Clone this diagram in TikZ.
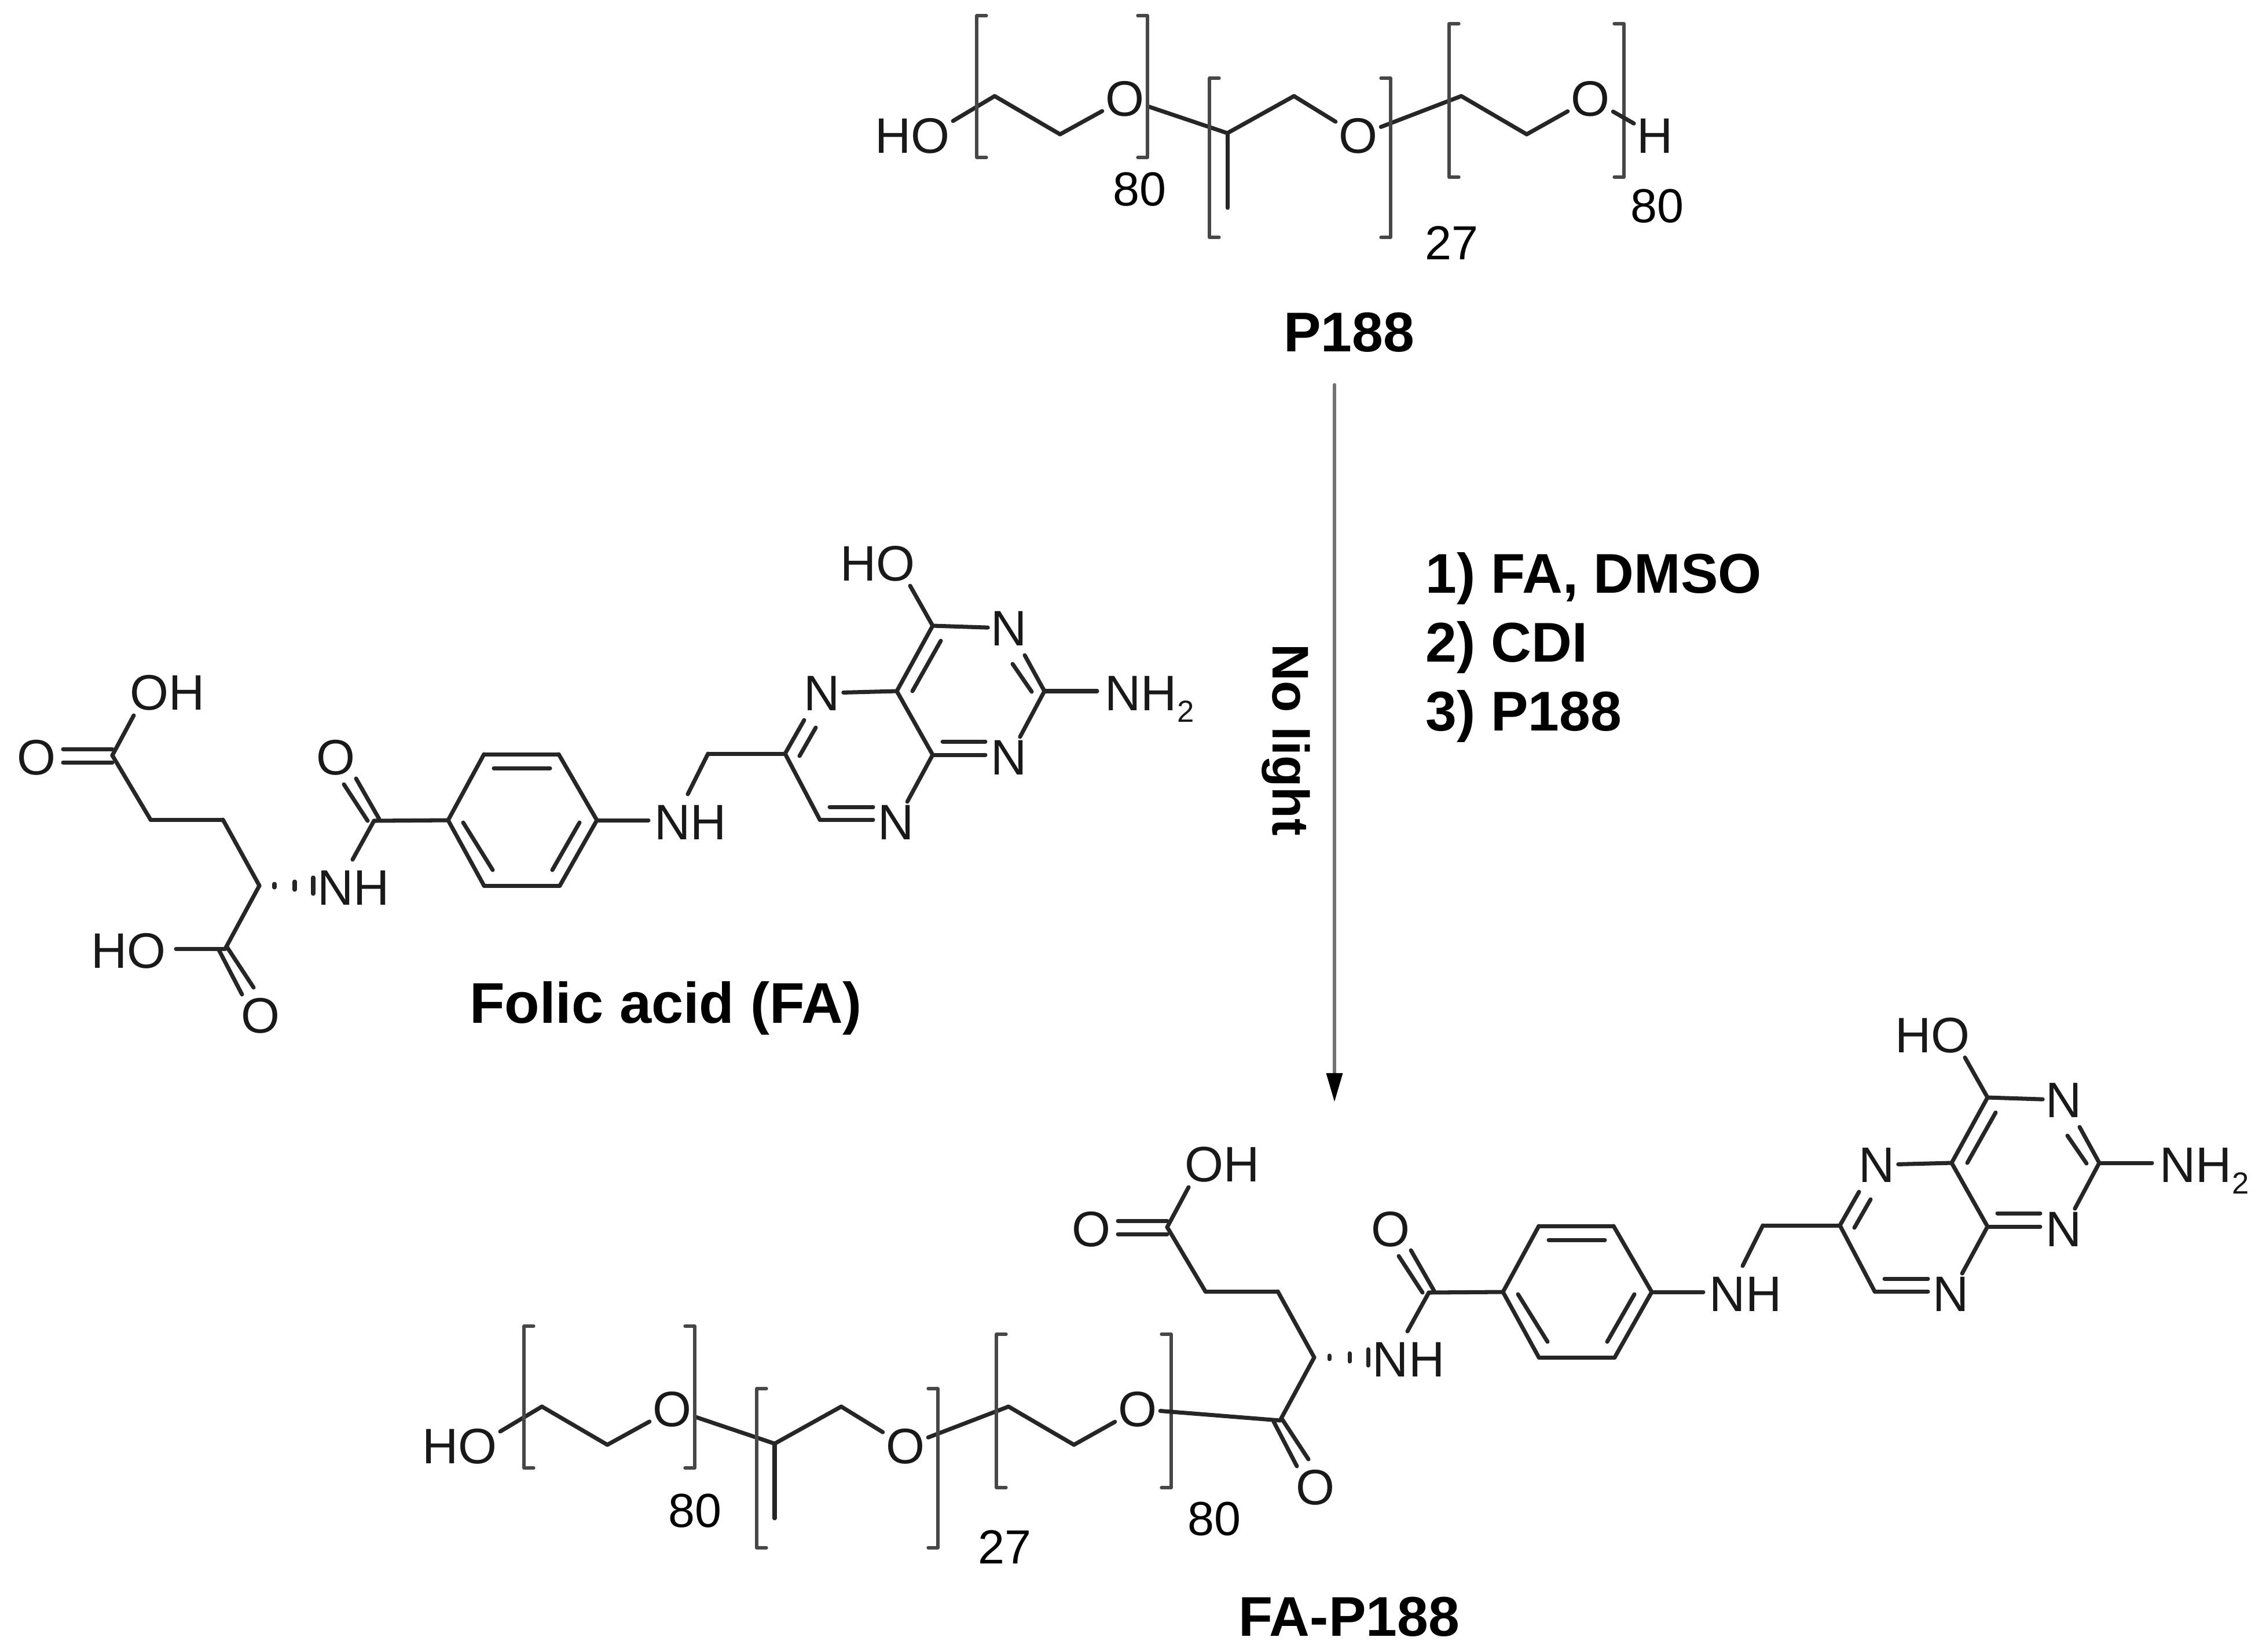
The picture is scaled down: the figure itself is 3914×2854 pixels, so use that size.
\documentclass[tikz,border=0pt]{standalone}
\usepackage{fontspec}
\setmainfont{Liberation Sans}
\usetikzlibrary{arrows.meta}
\tikzset{
	bond/.style={line width=2pt,color=black!85},
	brack/.style={line width=1.5pt,color=black!72},
	atom/.style={anchor=base,inner sep=.05cm,font=\fontsize{24.5}{28}\selectfont,color=black!90},
	numlab/.style={anchor=base,inner sep=0pt,font=\fontsize{23.5}{26}\selectfont},
	titlelab/.style={anchor=base,inner sep=0pt,font=\fontsize{27.5}{30}\selectfont\bfseries},
}
\newcommand{\polybracket}[4]{
	\draw[brack] (#1,#3) ++(17,0) -| (#1,#4) -- ++(17,0);
	\draw[brack] (#2,#3) ++(-17,0) -| (#2,#4) -- ++(-17,0);
}
\newcommand{\blockchain}{
	\node[atom] (ho) at (1576,264) {HO};
	\node[atom] (oa) at (1943,200) {O};
	\node[atom] (ob) at (2346,264) {O};
	\node[atom] (oc) at (2747,200) {O};
	\foreach \pn/\px/\py in {hoend/1646/209,ca/1718/166,cb/1831/232,cc/2120/230,me/2120/359,cd/2235/166,ce/2524/166,cf/2637/232}
		\coordinate (\pn) at (\px,\py);
	\foreach \pa/\pb in {hoend/ca,ca/cb,cb/oa,oa/cc,cc/me,cc/cd,cd/ob,ob/ce,ce/cf,cf/oc}
		\draw[bond] (\pa) -- (\pb);
	\polybracket{1687}{1982}{27}{272}
	\polybracket{2089}{2402}{135}{410}
	\polybracket{2503}{2805}{41}{306}
}
\newcommand{\folatecore}{
	\node[atom] (oh) at (289,1226) {OH};
	\node[atom] (oa) at (63,1338) {O};
	\node[atom] (ob) at (450,1784) {O};
	\node[atom] (oc) at (580,1338) {O};
	\node[atom] (nha) at (611,1563) {NH};
	\node[atom] (nhb) at (1193,1450) {NH};
	\node[atom] (na) at (1420,1227) {N};
	\node[atom] (nb) at (1743,1115) {N};
	\node[atom] (nc) at (1743,1338) {N};
	\node[atom] (nd) at (1548,1450) {N};
	\node[atom] (hot) at (1516,1003) {HO};
	\node[atom,anchor=base west,inner sep=0pt] (nhc) at (1908,1227) {NH\raisebox{-.24em}{\fontsize{15}{16}\selectfont 2}};
	\foreach \pn/\px/\py in {
		cc1/194/1305,oe1/231/1236,m1/260/1416,m2/385/1416,st/448/1530,cc2/389/1639,
		ca/646/1418,ne1/609/1485,r1/774/1417,r2/836/1303,r3/965/1303,r4/1031/1417,r5/967/1530,r6/836/1530,
		ne2/1120/1417,ne3/1188/1372,ch/1223/1302,c6/1356/1302,c4a/1549/1194,c4/1611/1081,oe2/1572/1012,
		c2/1804/1194,ne4/1895/1194,c8a/1611/1304,c7/1416/1416,
		d1a/109/1294,d1b/194/1294,d2a/109/1317,d2b/194/1317,
		d3a/378/1641,d3b/418/1718,d4a/392/1636,d4b/438/1706,
		d5a/594/1355,d5b/635/1418,d6a/615/1345,d6b/655/1415,
		i1a/853/1327,i1b/950/1327,i2a/800/1421,i2b/851/1503,i3a/1001/1421,i3b/954/1503,
		i4a/1389/1244,i5a/1381/1306,i5b/1409/1257,i6a/1576/1194,i6b/1625/1107,
		i7a/1770/1132,i8a/1749/1147,i8b/1782/1195,i9a/1628/1281,i9b/1702/1281,i10/1702/1304,
		i11/1508/1416,i12a/1433/1394,i12b/1508/1394}
		\coordinate (\pn) at (\px,\py);
	\foreach \pa/\pb in {
		cc1/oe1,d1a/d1b,d2a/d2b,cc1/m1,m1/m2,m2/st,st/cc2,d3a/d3b,d4a/d4b,
		ne1/ca,d5a/d5b,d6a/d6b,ca/r1,r1/r2,r2/r3,r3/r4,r4/r5,r5/r6,r6/r1,i1a/i1b,i2a/i2b,i3a/i3b,
		r4/ne2,ne3/ch,ch/c6,c6/i4a,i5a/i5b,na/c4a,c4a/c4,i6a/i6b,c4/oe2,c4/nb,i7a/c2,i8a/i8b,c2/ne4,c2/nc,
		c4a/c8a,c8a/i10,i9a/i9b,c8a/nd,c7/i11,i12a/i12b,c7/c6}
		\draw[bond] (\pa) -- (\pb);
	\foreach \hx/\hh in {474/3,509/7,541/14}
		\draw[bond] (\hx,1530-\hh) -- (\hx,1530+\hh);
}
\begin{document}
\begin{tikzpicture}[line join=round,line cap=round,x=.01cm,y=-.01cm]
	\useasboundingbox (0,0) rectangle (3914,2854);
	\begin{scope}[name prefix=pt-]
		\blockchain
	\end{scope}
	\node[atom] (topH) at (2859,264) {H};
	\draw[bond] (pt-oc) -- (topH);
	\node[numlab] (ntopa) at (1968,355) {80};
	\node[numlab] (ntopb) at (2507,448) {27};
	\node[numlab] (ntopc) at (2862,384) {80};
	\node[titlelab] (ptitle) at (2330,607) {P188};
	\begin{scope}[name prefix=fa-]
		\folatecore
	\end{scope}
	\node[atom] (faho) at (222,1672) {HO};
	\coordinate (fahoend) at (304,1639);
	\draw[bond] (fahoend) -- (fa-cc2);
	\node[titlelab,font=\fontsize{28.2}{30}\selectfont\bfseries] (fatitle) at (1150,1767) {Folic acid (FA)};
	\coordinate (rxntop) at (2305,665);
	\coordinate (rxnend) at (2305,1904);
	\draw[line width=1.8pt,color=black!55,-{Triangle[length=.5cm,width=.27cm,color=black]}] (rxntop) -- (rxnend);
	\node[titlelab,font=\fontsize{25.3}{28}\selectfont\bfseries,rotate=-90,anchor=base west] (nolight) at (2198,1112) {No light};
	\node[titlelab,anchor=base west] (conda) at (2462,1024) {1) FA, DMSO};
	\node[titlelab,anchor=base west] (condb) at (2462,1143) {2) CDI};
	\node[titlelab,anchor=base west] (condc) at (2462,1262) {3) P188};
	\begin{scope}[shift={(-782,2264)},name prefix=pb-]
		\blockchain
	\end{scope}
	\begin{scope}[shift={(1822,815)},name prefix=fb-]
		\folatecore
	\end{scope}
	\draw[bond] (pb-oc) -- (fb-cc2);
	\node[numlab] (nbota) at (1200,2638) {80};
	\node[numlab] (nbotb) at (1735,2701) {27};
	\node[numlab] (nbotc) at (2097,2652) {80};
	\node[titlelab] (fptitle) at (2330,2826) {FA-P188};
\end{tikzpicture}
\end{document}
